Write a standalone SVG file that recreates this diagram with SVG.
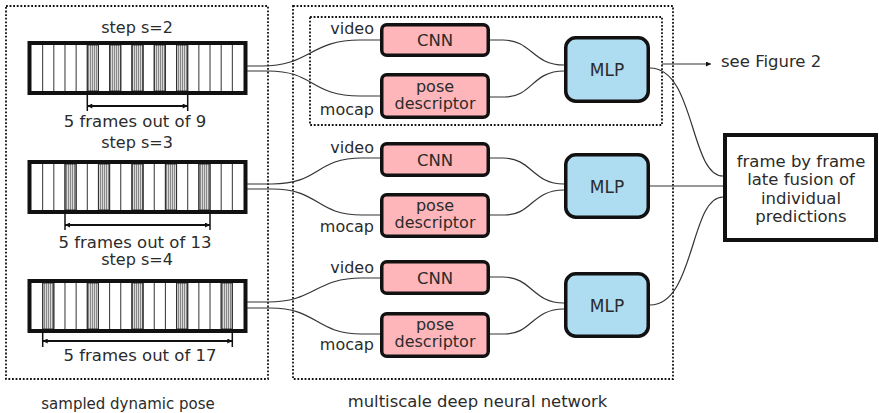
<svg xmlns="http://www.w3.org/2000/svg" width="879" height="413" viewBox="0 0 879 413">
<style>
text{font-family:"DejaVu Sans","Liberation Sans",sans-serif;fill:#2b2b2b}
.lbl{font-size:16px}
.big{font-size:16.5px}
.mid{text-anchor:middle}
.end{text-anchor:end}
.dot{fill:none;stroke:#111;stroke-width:1.8;stroke-dasharray:1.8 1.8}
.bg{fill:#fff}
.frame{fill:none;stroke:#111;stroke-width:4}
.div{stroke:#333;stroke-width:1}
.gray{fill:url(#hatch);stroke:#333;stroke-width:1}
.dim{stroke:#111;stroke-width:2;fill:none}
.tick{stroke:#111;stroke-width:1.5}
.conn{fill:none;stroke:#333;stroke-width:1.2}
.pink{fill:#ffb6ba;stroke:#111;stroke-width:3.5}
.blue{fill:#aedcf0;stroke:#111;stroke-width:3.5}
.box{fill:#fff;stroke:#111;stroke-width:4}
</style>
<defs>
<pattern id="hatch" patternUnits="userSpaceOnUse" width="2" height="10">
<rect width="2" height="10" fill="#d8d8d8"/>
<rect width="1" height="10" fill="#888"/>
</pattern>
<marker id="ah" viewBox="0 0 10 10" refX="10" refY="5" markerWidth="6" markerHeight="5" orient="auto-start-reverse" markerUnits="userSpaceOnUse">
<path d="M0,0 L10,5 L0,10 z" fill="#111"/>
</marker>
<g id="dividers">
<line class="div" x1="42.66" y1="0" x2="42.66" y2="46"/>
<line class="div" x1="53.82" y1="0" x2="53.82" y2="46"/>
<line class="div" x1="64.97" y1="0" x2="64.97" y2="46"/>
<line class="div" x1="76.13" y1="0" x2="76.13" y2="46"/>
<line class="div" x1="87.29" y1="0" x2="87.29" y2="46"/>
<line class="div" x1="98.45" y1="0" x2="98.45" y2="46"/>
<line class="div" x1="109.61" y1="0" x2="109.61" y2="46"/>
<line class="div" x1="120.76" y1="0" x2="120.76" y2="46"/>
<line class="div" x1="131.92" y1="0" x2="131.92" y2="46"/>
<line class="div" x1="143.08" y1="0" x2="143.08" y2="46"/>
<line class="div" x1="154.24" y1="0" x2="154.24" y2="46"/>
<line class="div" x1="165.40" y1="0" x2="165.40" y2="46"/>
<line class="div" x1="176.55" y1="0" x2="176.55" y2="46"/>
<line class="div" x1="187.71" y1="0" x2="187.71" y2="46"/>
<line class="div" x1="198.87" y1="0" x2="198.87" y2="46"/>
<line class="div" x1="210.03" y1="0" x2="210.03" y2="46"/>
<line class="div" x1="221.18" y1="0" x2="221.18" y2="46"/>
<line class="div" x1="232.34" y1="0" x2="232.34" y2="46"/>
</g>
</defs>

<!-- group frames -->
<g id="sampled-dynamic-pose">
<rect class="dot" x="6" y="6" width="262" height="373"/>
<text class="lbl mid" x="128" y="409" style="font-size:15px">sampled dynamic pose</text>
</g>
<g id="multiscale-network">
<rect class="dot" x="293" y="6" width="380" height="373"/>
<rect class="dot" x="310" y="17" width="352" height="108"/>
<text class="lbl mid" x="477.5" y="407" style="font-size:16.4px">multiscale deep neural network</text>
</g>

<!-- strips -->
<g id="strip-s2">
<text class="lbl mid" x="137" y="33">step s=2</text>
<rect class="bg" x="29.5" y="43" width="216" height="50"/>
<rect class="gray" x="87.29" y="45" width="11.16" height="46"/>
<rect class="gray" x="109.61" y="45" width="11.16" height="46"/>
<rect class="gray" x="131.92" y="45" width="11.16" height="46"/>
<rect class="gray" x="154.24" y="45" width="11.16" height="46"/>
<rect class="gray" x="176.55" y="45" width="11.16" height="46"/>
<use href="#dividers" y="45"/>
<rect class="frame" x="29.5" y="43" width="216" height="50"/>
<line class="tick" x1="87.3" y1="95" x2="87.3" y2="111"/>
<line class="tick" x1="187.7" y1="95" x2="187.7" y2="111"/>
<line class="dim" x1="87.3" y1="106" x2="187.7" y2="106" marker-start="url(#ah)" marker-end="url(#ah)"/>
<text class="big mid" x="135" y="127">5 frames out of 9</text>
</g>

<g id="strip-s3">
<text class="lbl mid" x="137" y="148">step s=3</text>
<rect class="bg" x="29.5" y="162" width="216" height="50"/>
<rect class="gray" x="64.97" y="164" width="11.16" height="46"/>
<rect class="gray" x="98.45" y="164" width="11.16" height="46"/>
<rect class="gray" x="131.92" y="164" width="11.16" height="46"/>
<rect class="gray" x="165.40" y="164" width="11.16" height="46"/>
<rect class="gray" x="198.87" y="164" width="11.16" height="46"/>
<use href="#dividers" y="164"/>
<rect class="frame" x="29.5" y="162" width="216" height="50"/>
<line class="tick" x1="65" y1="214" x2="65" y2="230"/>
<line class="tick" x1="210" y1="214" x2="210" y2="230"/>
<line class="dim" x1="65" y1="225" x2="210" y2="225" marker-start="url(#ah)" marker-end="url(#ah)"/>
<text class="big mid" x="135" y="247.5">5 frames out of 13</text>
</g>

<g id="strip-s4">
<text class="lbl mid" x="137" y="265">step s=4</text>
<rect class="bg" x="29.5" y="281" width="216" height="50"/>
<rect class="gray" x="42.66" y="283" width="11.16" height="46"/>
<rect class="gray" x="87.29" y="283" width="11.16" height="46"/>
<rect class="gray" x="131.92" y="283" width="11.16" height="46"/>
<rect class="gray" x="176.55" y="283" width="11.16" height="46"/>
<rect class="gray" x="221.18" y="283" width="11.16" height="46"/>
<use href="#dividers" y="283"/>
<rect class="frame" x="29.5" y="281" width="216" height="50"/>
<line class="tick" x1="42.7" y1="333" x2="42.7" y2="347"/>
<line class="tick" x1="232.3" y1="333" x2="232.3" y2="347"/>
<line class="dim" x1="42.7" y1="341" x2="232.3" y2="341" marker-start="url(#ah)" marker-end="url(#ah)"/>
<text class="big mid" x="140" y="361">5 frames out of 17</text>
</g>

<!-- connectors -->
<g id="connectors">
<path class="conn" d="M247,66 L262,66 C310,66 310,40 360,40 L380,40"/>
<path class="conn" d="M247,71 L268,71 C315,71 310,96 360,96 L380,96"/>
<path class="conn" d="M247,184 L272,184 C320,184 315,158 362,158 L380,158"/>
<path class="conn" d="M247,189 L272,189 C320,189 315,215 362,215 L380,215"/>
<path class="conn" d="M247,302 L268,302 C315,302 315,278 362,278 L380,278"/>
<path class="conn" d="M247,308 L270,308 C318,308 315,334 362,334 L380,334"/>

<path class="conn" d="M490,40 L503,40 C532,40 532,65 564,65"/>
<path class="conn" d="M490,97 L505,97 C532,97 532,71 564,71"/>
<path class="conn" d="M490,158 L503,158 C532,158 532,184 564,184"/>
<path class="conn" d="M490,215 L505,215 C532,215 532,190 564,190"/>
<path class="conn" d="M490,277 L503,277 C532,277 532,303 564,303"/>
<path class="conn" d="M490,334 L505,334 C532,334 532,309 564,309"/>

<path class="conn" d="M650,68 C695,68 690,176 723,176"/>
<path class="conn" d="M650,186 L723,186"/>
<path class="conn" d="M650,305 C695,305 690,197 723,197"/>
<line class="conn" x1="662" y1="64" x2="711" y2="64" stroke-width="1.4" marker-end="url(#ah)"/>
</g>

<!-- row 1 -->
<g id="cnn1">
<rect class="pink" x="381.75" y="24.75" width="106.5" height="30.5" rx="5"/>
<text class="lbl mid" x="435" y="46" style="font-size:16.5px">CNN</text>
</g>
<g id="pose1">
<rect class="pink" x="381.75" y="74.75" width="106.5" height="42.5" rx="5"/>
<text class="lbl mid" x="435" y="92">pose</text>
<text class="lbl mid" x="435" y="109">descriptor</text>
</g>
<g id="mlp1">
<rect class="blue" x="565.75" y="37.75" width="82.5" height="63.5" rx="10"/>
<text class="lbl mid" x="607" y="76" style="font-size:17px">MLP</text>
</g>
<text class="lbl end" x="374" y="34">video</text>
<text class="lbl end" x="374" y="115">mocap</text>

<!-- row 2 -->
<g id="cnn2">
<rect class="pink" x="381.75" y="143.75" width="106.5" height="31.5" rx="5"/>
<text class="lbl mid" x="435" y="165.5" style="font-size:16.5px">CNN</text>
</g>
<g id="pose2">
<rect class="pink" x="381.75" y="194.75" width="106.5" height="41.5" rx="5"/>
<text class="lbl mid" x="435" y="211">pose</text>
<text class="lbl mid" x="435" y="228">descriptor</text>
</g>
<g id="mlp2">
<rect class="blue" x="565.75" y="154.75" width="82.5" height="62.5" rx="10"/>
<text class="lbl mid" x="607" y="192.5" style="font-size:17px">MLP</text>
</g>
<text class="lbl end" x="374" y="152.5">video</text>
<text class="lbl end" x="374" y="232">mocap</text>

<!-- row 3 -->
<g id="cnn3">
<rect class="pink" x="381.75" y="261.75" width="106.5" height="31.5" rx="5"/>
<text class="lbl mid" x="435" y="283.5" style="font-size:16.5px">CNN</text>
</g>
<g id="pose3">
<rect class="pink" x="381.75" y="313.75" width="106.5" height="42.5" rx="5"/>
<text class="lbl mid" x="435" y="330">pose</text>
<text class="lbl mid" x="435" y="347">descriptor</text>
</g>
<g id="mlp3">
<rect class="blue" x="565.75" y="273.75" width="82.5" height="62.5" rx="10"/>
<text class="lbl mid" x="607" y="311.5" style="font-size:17px">MLP</text>
</g>
<text class="lbl end" x="374" y="272.5">video</text>
<text class="lbl end" x="374" y="350">mocap</text>

<g id="see-figure">
<text class="big" x="721" y="67">see Figure 2</text>
</g>

<g id="fusion">
<rect class="box" x="725" y="135" width="151" height="105"/>
<text class="big mid" x="801" y="167">frame by frame</text>
<text class="big mid" x="801" y="185">late fusion of</text>
<text class="big mid" x="801" y="203.5">individual</text>
<text class="big mid" x="801" y="221.5">predictions</text>
</g>
</svg>
